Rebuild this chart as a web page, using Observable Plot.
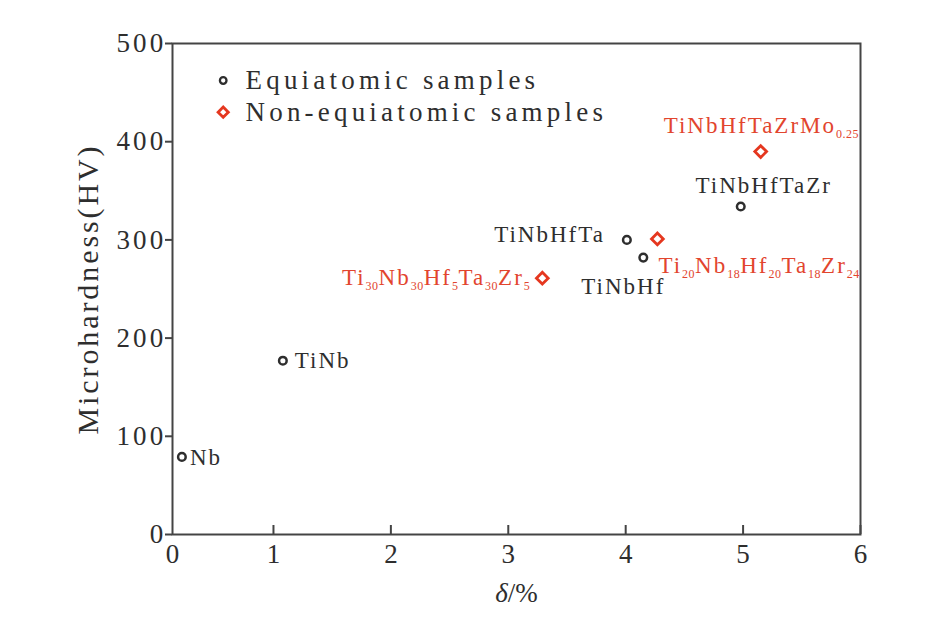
<!DOCTYPE html>
<html>
<head>
<meta charset="utf-8">
<script src="https://cdn.jsdelivr.net/npm/d3@7"></script>
<script src="https://cdn.jsdelivr.net/npm/@observablehq/plot@0.6"></script>
<style>
  html, body { margin: 0; padding: 0; background: #ffffff; }
  #chart { width: 939px; height: 617px; }
</style>
</head>
<body>
<div id="chart"></div>
<script>
// ---- data ----
const equiNames = ["Nb", "TiNb", "TiNbHfTa", "TiNbHf", "TiNbHfTaZr"];
const equiDelta = [0.22, 1.08, 4.01, 4.15, 4.98];
const equiHV    = [79, 177, 300, 282, 334];

const nonNames = ["Ti_30Nb_30Hf_5Ta_30Zr_5", "Ti_20Nb_18Hf_20Ta_18Zr_24", "TiNbHfTaZrMo_0.25"];
const nonDelta = [3.29, 4.27, 5.15];
const nonHV    = [261, 301, 390];

const xDomain = [0.14, 6];
const yDomain = [0, 500];
const xTicks = [1, 2, 3, 4, 5, 6];
const yTicks = [0, 100, 200, 300, 400, 500];
const legendLabels = ["Equiatomic samples", "Non-equiatomic samples"];
const xTitle = "δ/%";
const yTitle = "Microhardness(HV)";

// ---- build tables ----
const equi = equiNames.map((n, i) => ({name: n, x: equiDelta[i], y: equiHV[i]}));
const non = nonNames.map((n, i) => ({name: n, x: nonDelta[i], y: nonHV[i]}));

// label placement (style, not data)
const place = {
  "Nb": {dx: 8, dy: 1, a: "start"},
  "TiNb": {dx: 12, dy: 0, a: "start"},
  "TiNbHfTa": {dx: -22, dy: -5, a: "end"},
  "TiNbHf": {dx: -20, dy: 29, a: "middle"},
  "TiNbHfTaZr": {dx: 23, dy: -21, a: "middle"},
  "Ti_30Nb_30Hf_5Ta_30Zr_5": {dx: -12, dy: -1, a: "end"},
  "Ti_20Nb_18Hf_20Ta_18Zr_24": {dx: 1, dy: 27, a: "start"},
  "TiNbHfTaZrMo_0.25": {dx: -97, dy: -26, a: "start"}
};

const black = "#2e2e2e";
const red = "#e5371f";
const redText = "#e2452e";
const font = "'Liberation Serif', 'Times New Roman', serif";

const labelMarks = [];
for (const d of equi) {
  const p = place[d.name];
  labelMarks.push(Plot.text([d], {x: "x", y: "y", text: "name", dx: p.dx, dy: p.dy, textAnchor: p.a,
    lineAnchor: "middle", fill: black, fontSize: 23, className: "ptlabel"}));
}
for (const d of non) {
  const p = place[d.name];
  labelMarks.push(Plot.text([d], {x: "x", y: "y", text: "name", dx: p.dx, dy: p.dy, textAnchor: p.a,
    lineAnchor: "middle", fill: redText, fontSize: 23, clip: true, className: "ptlabel"}));
}

const chart = Plot.plot({
  width: 939,
  height: 617,
  marginLeft: 172,
  marginRight: 79,
  marginTop: 43,
  marginBottom: 83,
  style: {fontFamily: font, background: "#ffffff", color: black},
  x: {domain: xDomain, axis: null},
  y: {domain: yDomain, axis: null},
  marks: [
    Plot.frame({stroke: "#444", strokeWidth: 2}),
    Plot.ruleX(xTicks, {insetTop: 617 - 43 - 83 - 9, stroke: "#444", strokeWidth: 2}),
    Plot.axisX([xDomain[0], ...xTicks], {tickSize: 0, tickPadding: 9, fontSize: 27, fill: black, label: null,
      tickFormat: d => d === xDomain[0] ? "0" : String(d), className: "xtick"}),
    Plot.axisY(yTicks, {tickSize: 7, tickPadding: -1, fontSize: 27, fill: black, stroke: "#444",
      strokeWidth: 2, className: "ytick", label: null}),
    Plot.text([yTitle], {frameAnchor: "left", rotate: -90, dx: -84, fontSize: 30, fill: black,
      textAnchor: "middle", lineAnchor: "middle", className: "ytitle"}),
    Plot.text([xTitle], {frameAnchor: "bottom", dy: 59, fontSize: 27, fill: black,
      textAnchor: "middle", lineAnchor: "middle", className: "xtitle"}),
    // legend
    Plot.dot([legendLabels[0]], {frameAnchor: "top-left", dx: 50.7, dy: 37, r: 3.3, stroke: black, strokeWidth: 2.3, fill: "none"}),
    Plot.dot([legendLabels[1]], {frameAnchor: "top-left", dx: 50.7, dy: 68.7, r: 4.6, symbol: "diamond2", stroke: red, strokeWidth: 2.8, fill: "none"}),
    Plot.text([legendLabels[0]], {frameAnchor: "top-left", dx: 73, dy: 37, textAnchor: "start", lineAnchor: "middle", fontSize: 27, fill: black, className: "legend"}),
    Plot.text([legendLabels[1]], {frameAnchor: "top-left", dx: 73, dy: 69, textAnchor: "start", lineAnchor: "middle", fontSize: 27, fill: black, className: "legend"}),
    // data
    Plot.dot(equi, {x: "x", y: "y", r: 3.8, stroke: black, strokeWidth: 2.5, fill: "none"}),
    Plot.dot(non, {x: "x", y: "y", r: 5.3, symbol: "diamond2", stroke: red, strokeWidth: 2.8, fill: "none"}),
    ...labelMarks
  ]
});

document.getElementById("chart").appendChild(chart);

// letter spacing to mimic the stretched serif type of the original
chart.querySelectorAll(".legend text").forEach(t => t.setAttribute("letter-spacing", "4.2"));
chart.querySelectorAll(".ytick text").forEach(t => t.setAttribute("letter-spacing", "3.2"));
chart.querySelectorAll(".ytitle text").forEach(t => t.setAttribute("letter-spacing", "2.9"));
chart.querySelectorAll(".ptlabel text").forEach(t => t.setAttribute("letter-spacing", "2"));

// subscripts: "_digits" -> smaller lowered tspan
const NS = "http://www.w3.org/2000/svg";
chart.querySelectorAll("text").forEach(t => {
  const s = t.textContent;
  if (s.includes("_")) {
    const parts = s.split(/_([0-9.]+)/);
    while (t.firstChild) t.removeChild(t.firstChild);
    let lowered = false;
    parts.forEach((p, i) => {
      if (!p) return;
      const ts = document.createElementNS(NS, "tspan");
      ts.textContent = p;
      if (i % 2 === 1) {
        ts.setAttribute("font-size", "12");
        ts.setAttribute("letter-spacing", "0.5");
        if (!lowered) { ts.setAttribute("dy", "5"); lowered = true; }
      } else if (lowered) {
        ts.setAttribute("dy", "-5");
        lowered = false;
      }
      t.appendChild(ts);
    });
  } else if (s === xTitle) {
    while (t.firstChild) t.removeChild(t.firstChild);
    const a = document.createElementNS(NS, "tspan");
    a.setAttribute("font-style", "italic");
    a.textContent = "δ";
    const b = document.createElementNS(NS, "tspan");
    b.textContent = "/%";
    t.appendChild(a); t.appendChild(b);
  }
});
</script>
</body>
</html>
